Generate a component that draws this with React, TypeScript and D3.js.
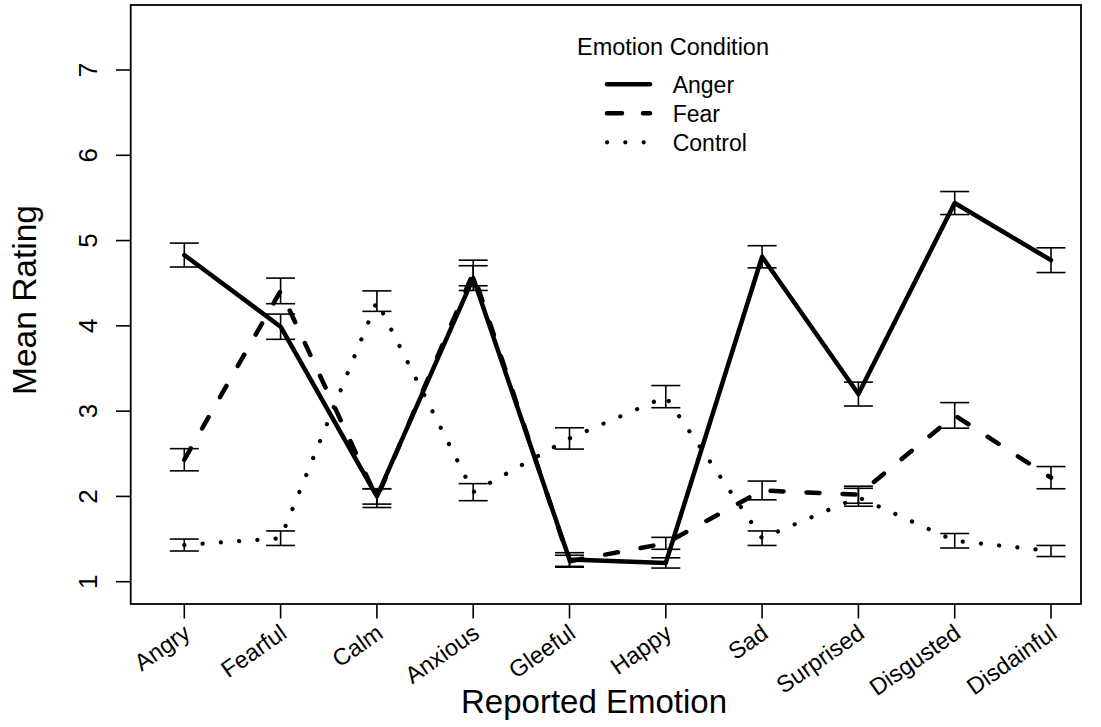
import React from "react";
import * as d3 from "d3";

const emotions = ["Angry", "Fearful", "Calm", "Anxious", "Gleeful", "Happy", "Sad", "Surprised", "Disgusted", "Disdainful"];
const angerMean = [4.83, 3.99, 2.0, 4.56, 1.26, 1.22, 4.81, 3.2, 5.44, 4.77];
const angerSE = [0.14, 0.148, 0.09, 0.145, 0.08, 0.06, 0.13, 0.14, 0.135, 0.145];
const fearMean = [2.43, 4.41, 1.98, 4.62, 1.24, 1.45, 2.07, 2.02, 2.95, 2.22];
const fearSE = [0.13, 0.15, 0.11, 0.15, 0.07, 0.07, 0.11, 0.1, 0.15, 0.13];
const controlMean = [1.43, 1.51, 4.29, 2.05, 2.68, 3.17, 1.51, 1.99, 1.48, 1.36];
const controlSE = [0.07, 0.085, 0.12, 0.1, 0.125, 0.13, 0.085, 0.105, 0.085, 0.065];
const yTicks = [1, 2, 3, 4, 5, 6, 7];
const seriesNames = ["Anger", "Fear", "Control"];

const W = 1101;
const H = 727;
const FONT = "'Liberation Sans', Arial, Helvetica, sans-serif";

export default function App() {
  const box = { left: 130.7, right: 1081, top: 5, bottom: 604 };
  const x = d3.scaleLinear().domain([1, 10]).range([184.3, 1051]);
  const y = d3.scaleLinear().domain([1, 7]).range([581.7, 70]);

  const series = [
    { name: seriesNames[0], mean: angerMean, se: angerSE, dash: undefined as string | undefined, width: 4.5 },
    { name: seriesNames[1], mean: fearMean, se: fearSE, dash: "13 23", width: 4.5 },
    { name: seriesNames[2], mean: controlMean, se: controlSE, dash: "0.1 18.2", width: 4.2 },
  ];

  const line = d3
    .line<number>()
    .x((_, i) => x(i + 1))
    .y((d) => y(d));

  const capW = 14.5;

  return (
    <svg width={W} height={H} style={{ position: "absolute", left: 0, top: 0, background: "#fff" }}>
      <rect x={0} y={0} width={W} height={H} fill="#fff" />
      {series.map((s) => (
        <path
          key={s.name}
          d={line(s.mean) || ""}
          fill="none"
          stroke="#000"
          strokeWidth={s.width}
          strokeDasharray={s.dash}
          strokeLinecap="round"
          strokeLinejoin="round"
        />
      ))}
      {series.map((s) =>
        s.mean.map((m, i) => {
          const cx = x(i + 1);
          const y1 = y(m + s.se[i]);
          const y2 = y(m - s.se[i]);
          return (
            <g key={s.name + i} stroke="#000" strokeWidth={1.6}>
              <line x1={cx} x2={cx} y1={y1} y2={y2} />
              <line x1={cx - capW} x2={cx + capW} y1={y1} y2={y1} />
              <line x1={cx - capW} x2={cx + capW} y1={y2} y2={y2} />
            </g>
          );
        })
      )}
      <rect
        x={box.left}
        y={box.top}
        width={box.right - box.left}
        height={box.bottom - box.top}
        fill="none"
        stroke="#000"
        strokeWidth={1.8}
      />
      {yTicks.map((t) => (
        <g key={"yt" + t}>
          <line x1={box.left - 14.7} x2={box.left} y1={y(t)} y2={y(t)} stroke="#000" strokeWidth={1.6} />
          <text
            x={97}
            y={y(t)}
            transform={`rotate(-90, 97, ${y(t)})`}
            textAnchor="middle"
            fontFamily={FONT}
            fontSize={26}
            fill="#000"
          >
            {t}
          </text>
        </g>
      ))}
      {emotions.map((e, i) => {
        const cx = x(i + 1);
        const ax = cx + 3;
        const ay = 630;
        return (
          <g key={"xt" + e}>
            <line x1={cx} x2={cx} y1={box.bottom} y2={box.bottom + 14.5} stroke="#000" strokeWidth={1.6} />
            <text
              x={ax}
              y={ay}
              transform={`rotate(-35, ${ax}, ${ay})`}
              textAnchor="end"
              dominantBaseline="central"
              fontFamily={FONT}
              fontSize={23.5}
              fill="#000"
            >
              {e}
            </text>
          </g>
        );
      })}
      <text x={594} y={713} textAnchor="middle" fontFamily={FONT} fontSize={33} fill="#000">
        Reported Emotion
      </text>
      <text
        x={36}
        y={300}
        transform="rotate(-90, 36, 300)"
        textAnchor="middle"
        fontFamily={FONT}
        fontSize={33.5}
        fill="#000"
      >
        Mean Rating
      </text>
      <text x={673} y={55} textAnchor="middle" fontFamily={FONT} fontSize={23.5} fill="#000">
        Emotion Condition
      </text>
      {series.map((s, i) => {
        const ly = 84.3 + i * 29;
        return (
          <g key={"lg" + s.name}>
            <line
              x1={607}
              x2={650}
              y1={ly}
              y2={ly}
              stroke="#000"
              strokeWidth={s.width}
              strokeDasharray={s.dash === "13 23" ? "15 21" : s.dash}
              strokeLinecap="round"
            />
            <text x={672.7} y={ly + 8.5} fontFamily={FONT} fontSize={23} fill="#000">
              {s.name}
            </text>
          </g>
        );
      })}
    </svg>
  );
}
